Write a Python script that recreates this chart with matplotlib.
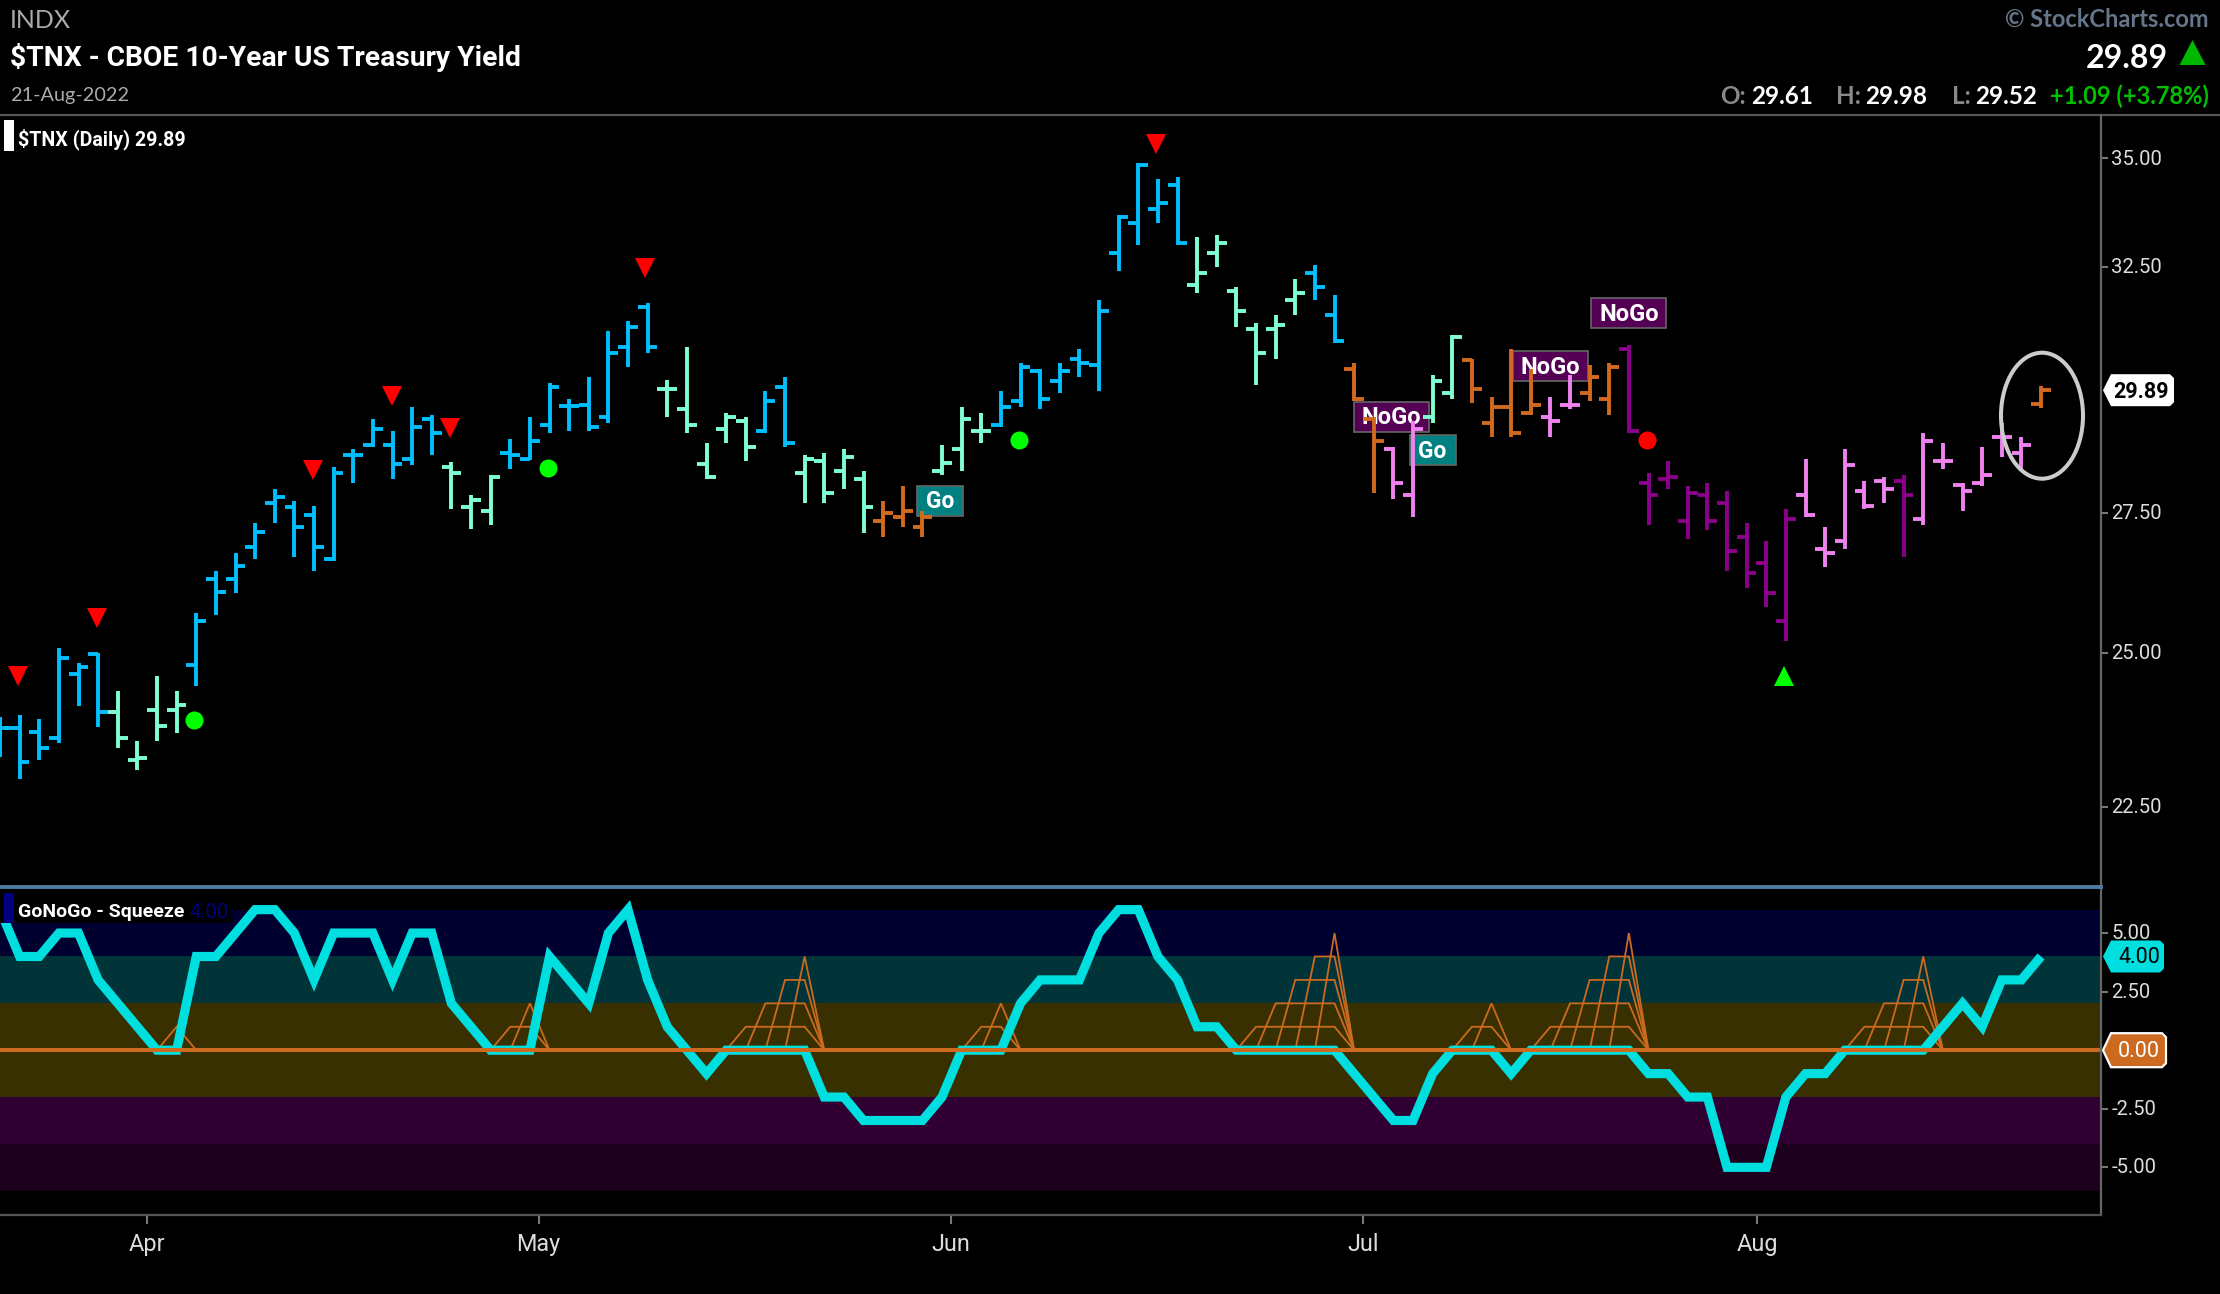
import matplotlib
matplotlib.use("Agg")
import matplotlib.pyplot as plt
from matplotlib.patches import Ellipse, Polygon, Rectangle
from matplotlib.transforms import Affine2D, IdentityTransform, ScaledTranslation

# ---------- data ----------
opens = [23.75,23.75,23.68,23.58,24.63,24.97,24.00,23.23,24.04,24.04,
24.79,26.29,26.29,26.87,27.68,27.60,27.45,26.64,28.60,28.80,
28.80,28.53,29.31,28.37,27.60,27.53,28.64,28.53,29.19,29.56,
29.59,29.35,30.79,31.63,29.91,29.51,28.43,29.11,29.27,29.07,
29.95,28.25,28.48,28.29,28.14,27.34,27.42,27.23,28.29,28.71,
29.07,29.19,29.67,30.28,30.08,30.53,30.40,32.81,33.49,33.82,
34.38,32.11,32.81,31.97,31.16,31.16,31.79,32.37,31.46,30.32,
29.31,28.71,27.83,29.35,29.83,30.51,29.22,29.55,29.43,29.35,
29.59,29.83,29.71,30.74,28.06,28.14,27.34,27.83,27.68,27.05,
26.57,25.55,27.83,26.83,26.97,27.91,28.10,28.10,27.38,28.48,
28.02,28.06,28.95,28.64,29.61]
highs = [23.92,23.96,23.90,25.07,24.82,25.00,24.36,23.54,24.60,24.36,
25.69,26.43,26.76,27.31,27.95,27.72,27.63,28.37,28.72,29.31,
29.07,29.55,29.39,28.46,27.83,28.22,28.91,29.35,30.04,29.71,
30.16,31.11,31.33,31.71,30.10,30.79,28.83,29.43,29.35,29.87,
30.16,28.60,28.64,28.71,28.29,27.72,28.00,27.53,28.79,29.55,
29.43,29.87,30.45,30.32,30.45,30.74,31.79,33.68,34.89,34.52,
34.56,33.18,33.22,32.06,31.29,31.46,32.24,32.54,31.89,30.45,
29.35,28.75,29.27,30.20,31.03,30.53,29.75,30.74,30.32,29.75,
30.20,30.40,30.45,30.82,28.25,28.48,28.00,28.06,27.91,27.31,
26.97,27.56,28.52,27.23,28.71,28.10,28.18,28.22,29.03,28.83,
28.06,28.75,29.22,28.95,29.98]
lows = [23.29,22.94,23.23,23.51,24.10,23.77,23.42,23.08,23.54,23.67,
24.43,25.65,26.03,26.65,27.31,26.68,26.43,26.61,28.06,28.76,
28.14,28.41,28.60,27.56,27.20,27.27,28.33,28.50,29.03,29.07,
29.07,29.22,30.36,30.66,29.35,29.03,28.14,28.83,28.48,29.03,
28.75,27.68,27.68,27.95,27.12,27.05,27.23,27.05,28.22,28.29,
28.83,29.15,29.55,29.51,29.83,30.16,29.87,32.41,33.00,33.49,
33.00,31.93,32.50,31.20,30.00,30.53,31.46,31.79,30.86,29.67,
27.87,27.76,27.42,29.22,29.71,29.63,28.95,28.95,29.39,28.95,
29.51,29.67,29.39,29.03,27.27,27.95,27.01,27.18,26.43,26.13,
25.79,25.20,27.42,26.50,26.83,27.56,27.68,26.68,27.27,28.33,
27.53,28.00,28.56,28.33,29.52]
closes = [23.75,23.20,23.42,24.90,24.76,24.00,23.58,23.27,23.78,24.13,
25.55,26.06,26.51,27.14,27.80,27.24,26.87,28.25,28.60,29.11,
28.43,29.15,29.03,28.25,27.73,28.18,28.60,28.87,29.96,29.56,
29.15,30.66,31.21,30.79,29.91,29.19,28.18,29.35,28.75,29.67,
28.83,28.52,27.87,28.56,27.60,27.49,27.53,27.42,28.45,29.31,
29.07,29.55,30.36,29.71,30.28,30.45,31.54,33.63,34.84,33.96,
33.04,32.37,33.04,31.54,30.66,31.24,31.93,32.06,30.91,29.71,
28.87,28.06,29.11,30.08,30.99,29.91,29.55,29.03,29.59,29.27,
29.59,30.16,30.36,29.07,27.83,28.18,27.87,27.34,26.79,26.39,
26.03,27.38,27.45,26.76,28.41,27.63,27.95,27.83,28.87,28.48,
27.91,28.22,28.95,28.79,29.89]
trend = list("BBBBBBMMMMBBBBBBBBBBBBBMMMBBBBBBBBMMMMMBBMMMMOOOMMMBBBBBBBBBBMMMMMMBBOOPPMMOOOOPPOOUUUUUUUUUPPPPPUPPPPPPO")
oscillator = [6,4,4,5,5,3,2,1,0,0,4,4,5,6,6,5,3,5,5,5,3,5,5,2,1,0,0,0,4,3,
2,5,6,3,1,0,-1,0,0,0,0,0,-2,-2,-3,-3,-3,-3,-2,0,0,0,2,3,3,3,5,6,6,4,
3,1,1,0,0,0,0,0,0,-1,-2,-3,-3,-1,0,0,0,-1,0,0,0,0,0,0,-1,-1,-2,-2,-5,-5,
-5,-2,-1,-1,0,0,0,0,0,1,2,1,3,3,4]
squeeze_bars = [9,26,27,38,39,40,41,50,51,64,65,66,67,68,75,76,79,80,81,82,83,95,96,97,98]
squeeze_levels = [1,1,2,1,2,3,4,1,2,1,2,3,4,5,1,2,1,2,3,4,5,1,2,3,4]
sell_x = [0.93,4.93,15.95,19.95,22.93,32.88,58.88]
sell_y = [24.60,25.60,28.30,29.77,29.14,32.48,35.35]
buy_dot_x = [9.88,27.92,51.92]
buy_dot_y = [23.87,28.35,28.89]
sell_dot_x = [83.92]
sell_dot_y = [28.90]
buy_tri_x = [90.88]
buy_tri_y = [24.60]
go_x = [47.9,73.0]
go_y = [27.72,28.69]
nogo_x = [70.9,79.0,83.0]
nogo_y = [29.35,30.38,31.50]
band_edges = [6,4,2,-2,-4,-6]
band_colors = ["#000030","#003438","#383000","#300032","#1c001e"]
price_ticks = [22.5,25,27.5,32.5,35]
osc_ticks = [5,2.5,0,-2.5,-5]
month_pos = [7.48,27.44,48.46,69.45,89.53]
month_labels = ["Apr","May","Jun","Jul","Aug"]
last_price = 29.89
last_osc = 4.0

# ---------- style ----------
W, H = 2220, 1294
NARROW = "Roboto"
COL = {"B":"#00bfff","M":"#7fffd4","O":"#d2691e","P":"#ee82ee","U":"#8b008b"}
ORANGE = "#cc6a1f"
CYAN = "#00dfe0"
plt.rcParams["font.family"] = ["Lato","DejaVu Sans"]

fig = plt.figure(figsize=(W/100, H/100), dpi=100, facecolor="black")
def rect(l, t, r, b):
    return [l/W, 1-b/H, (r-l)/W, (b-t)/H]

AX_R = 2101
BAR = 19.625
xlim = (0, AX_R/BAR)

ax = fig.add_axes(rect(0, 115, AX_R, 885), facecolor="black")
ax2 = fig.add_axes(rect(0, 886.2, AX_R, 1214.2), facecolor="black")

# ---------- price panel ----------
ax.set_yscale("log")
ax.set_xlim(*xlim)
ax.set_ylim(21.34, 36.05)
xs = list(range(len(opens)))
stem_w, tick_w = 2.8, 2.8
tl = 0.5
for code in COL:
    ids = [i for i in xs if trend[i] == code]
    ax.vlines(ids, [lows[i] for i in ids], [highs[i] for i in ids], colors=COL[code], lw=stem_w, zorder=3)
    ax.hlines([opens[i] for i in ids], [i-tl for i in ids], ids, colors=COL[code], lw=tick_w, zorder=3)
    ax.hlines([closes[i] for i in ids], ids, [i+tl for i in ids], colors=COL[code], lw=tick_w, zorder=3)
ax.plot(sell_x, sell_y, "v", color="#ff0000", ms=14, mew=0, ls="none", zorder=4)
ax.plot(buy_dot_x, buy_dot_y, "o", color="#00ff00", ms=13, mew=0, ls="none", zorder=4)
ax.plot(sell_dot_x, sell_dot_y, "o", color="#ff0000", ms=13, mew=0, ls="none", zorder=4)
ax.plot(buy_tri_x, buy_tri_y, "^", color="#00ff00", ms=14, mew=0, ls="none", zorder=4)
ax.set_yticks(price_ticks)
ax.set_yticklabels([f"{v:.2f}" for v in price_ticks])
ax.minorticks_off()
ax.set_xticks([])

# ---------- oscillator panel ----------
ax2.set_xlim(*xlim)
ax2.set_ylim(-7, 7)
for k, c in enumerate(band_colors):
    ax2.axhspan(band_edges[k+1], band_edges[k], color=c, lw=0, zorder=0)
runs, cur = [], []
for b, l in zip(squeeze_bars, squeeze_levels):
    if cur and b != cur[-1][0]+1:
        runs.append(cur); cur = []
    cur.append((b, l))
runs.append(cur)
for run in runs:
    end = run[-1][0]
    for b, l in run:
        ax2.plot([b-1, b, end, end+1], [0, l, l, 0], color=ORANGE, lw=1.3, zorder=1, solid_joinstyle="miter")
ax2.plot(xs, oscillator, color=CYAN, lw=6.6, zorder=2, solid_joinstyle="miter", solid_capstyle="butt")
ax2.plot(xlim, [0, 0], color=ORANGE, lw=2.9, zorder=3, solid_capstyle="butt")
ax2.set_yticks(osc_ticks)
# the zero level is labelled by its value tag, which sits over the tick in the reference
ax2.set_yticklabels([f"{v:.2f}" if v != 0 else "" for v in osc_ticks])
ax2.set_xticks(month_pos)
ax2.set_xticklabels(month_labels)

nudge = ScaledTranslation(0, 1.4/100, fig.dpi_scale_trans)
for a in (ax, ax2):
    for s in a.spines.values():
        s.set_visible(False)
    a.yaxis.tick_right()
    a.tick_params(axis="y", length=5, width=1.5, color="#777777", labelcolor="#dddddd", pad=2.5, labelsize=14.6)
    for t in a.get_yticklabels():
        t.set_fontfamily(NARROW)
        t.set_ha("left")
        t.set_transform(t.get_transform() + nudge)
ax2.tick_params(axis="x", length=7.2, width=1.5, color="#777777", labelcolor="#dddddd", pad=6, labelsize=16.8)
for t in ax2.get_xticklabels():
    t.set_fontfamily(NARROW)

fig.canvas.draw()

# ---------- signal labels ----------
def sig(x, y, text, col, w, size):
    cx, cy = ax.transData.transform((x, y))
    ax.add_patch(Rectangle((cx-w/2, cy-15), w, 30, facecolor=col, edgecolor="#666666", lw=1.2,
                           transform=IdentityTransform(), zorder=2, clip_on=False))
    ax.text(cx, cy-1, text, color="white", ha="center", va="center", fontsize=size, fontweight="bold",
            family=NARROW, transform=IdentityTransform(), zorder=2.5)
for x, y in zip(go_x, go_y):
    sig(x, y, "Go", "#008080", 46, 16.5)
for x, y in zip(nogo_x, nogo_y):
    sig(x, y, "NoGo", "#540054", 75, 17)

# ---------- chrome ----------
overlay = fig.add_axes([0, 0, 1, 1], facecolor="none")
overlay.axis("off")
overlay.set_xlim(0, W); overlay.set_ylim(H, 0)
overlay.plot([0, W], [115, 115], color="#555555", lw=1.6)
overlay.plot([AX_R, AX_R], [115, 1214.5], color="#666666", lw=1.6)
overlay.plot([0, AX_R], [1214.5, 1214.5], color="#555555", lw=1.6)
overlay.plot([0, AX_R], [886.5, 886.5], color="#4f7ca3", lw=2.8)
overlay.add_patch(Ellipse((2042, 415.7), 82, 126, fill=False, edgecolor="#cccccc", lw=2.9))

def T(x, y, s, color="white", size=16, weight="normal", family="Lato", ha="left"):
    overlay.text(x, y, s, color=color, fontsize=size, fontweight=weight, family=family, ha=ha, va="center")

T(10, 20, "INDX", "#aaaaaa", 18)
T(10, 58, "$TNX - CBOE 10-Year US Treasury Yield", "white", 20.3, "bold", NARROW)
T(10, 95, "21-Aug-2022", "#aaaaaa", 14.3)
T(2209, 19, "© StockCharts.com", "#66768a", 17, "bold", ha="right")
T(2168, 58, "29.89", "white", 23, "bold", ha="right")
overlay.add_patch(Polygon([(2179.5, 65), (2205.5, 65), (2192.5, 40)], color="#00b800", lw=0))
hy = 96.5
T(1720, hy, "O:", "#888888", 17.5, "bold")
T(1751, hy, "29.61", "white", 17.5, "bold")
T(1836.5, hy, "H:", "#888888", 17.5, "bold")
T(1865.5, hy, "29.98", "white", 17.5, "bold")
T(1952, hy, "L:", "#888888", 17.5, "bold")
T(1975, hy, "29.52", "white", 17.5, "bold")
T(2209, hy, "+1.09 (+3.78%)", "#00c000", 17, "bold", ha="right")

overlay.add_patch(Rectangle((4, 120), 10, 31, color="white", lw=0))
T(18.5, 139, f"$TNX (Daily) {last_price:.2f}", "white", 14.1, "bold", NARROW)
overlay.add_patch(Rectangle((0, 892.5), 231, 30.5, color="black", lw=0))
overlay.add_patch(Rectangle((4, 892.5), 10, 30.5, color="#000080", lw=0))
T(18, 912, "GoNoGo - Squeeze", "white", 14, "bold", NARROW)
T(189, 912, f"{last_osc:.2f}", "#000080", 14.5, "normal", NARROW)

def tag(a, val, xr, hh, face, edge, txt, tcol, cx, weight):
    yc = H - a.transData.transform((0, val))[1]
    pts = [(2103, yc), (2111, yc-hh), (xr-4, yc-hh), (xr, yc-hh+4), (xr, yc+hh-4), (xr-4, yc+hh), (2111, yc+hh)]
    overlay.add_patch(Polygon(pts, closed=True, facecolor=face, edgecolor=edge, lw=1.6 if edge != face else 0))
    overlay.text(cx, yc+1.5, txt, color=tcol, fontsize=15.5, fontweight=weight, family=NARROW, ha="center", va="center")
tag(ax, last_price, 2174, 16, "white", "white", f"{last_price:.2f}", "black", 2141, "bold")
tag(ax2, last_osc, 2164, 16, CYAN, CYAN, f"{last_osc:.2f}", "black", 2139, "normal")
tag(ax2, 0, 2166, 17, ORANGE, "white", "0.00", "white", 2139, "normal")

fig.savefig("out.png", dpi=100, facecolor="black")
